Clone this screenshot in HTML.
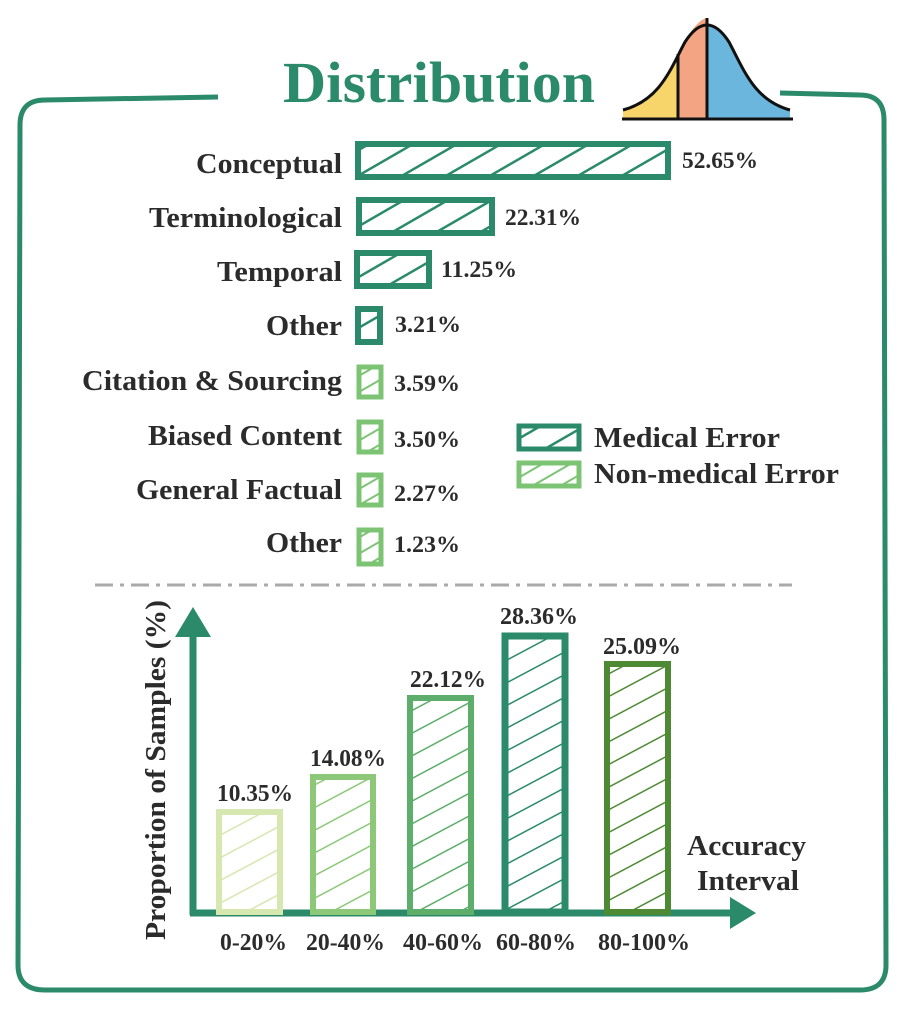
<!DOCTYPE html>
<html><head><style>
body{margin:0;background:#fff}
svg text{font-family:"Liberation Serif",serif;font-weight:bold}
</style></head><body>
<svg width="905" height="1004" viewBox="0 0 905 1004" xmlns="http://www.w3.org/2000/svg">
<defs>
<pattern id="hd" width="22" height="22" patternUnits="userSpaceOnUse" patternTransform="rotate(60)"><line x1="0" y1="0" x2="0" y2="22" stroke="#2a8a6a" stroke-width="5"/></pattern>
<pattern id="hl" width="14" height="14" patternUnits="userSpaceOnUse" patternTransform="rotate(60)"><line x1="0" y1="0" x2="0" y2="14" stroke="#7cc474" stroke-width="4"/></pattern>
<pattern id="b1" width="20" height="20" patternUnits="userSpaceOnUse" patternTransform="rotate(62)"><line x1="0" y1="0" x2="0" y2="20" stroke="#d6e7b0" stroke-width="3"/></pattern>
<pattern id="b2" width="20" height="20" patternUnits="userSpaceOnUse" patternTransform="rotate(62)"><line x1="0" y1="0" x2="0" y2="20" stroke="#8cc878" stroke-width="3"/></pattern>
<pattern id="b3" width="20" height="20" patternUnits="userSpaceOnUse" patternTransform="rotate(62)"><line x1="0" y1="0" x2="0" y2="20" stroke="#5cae6a" stroke-width="3"/></pattern>
<pattern id="b4" width="20" height="20" patternUnits="userSpaceOnUse" patternTransform="rotate(62)"><line x1="0" y1="0" x2="0" y2="20" stroke="#2a8a6a" stroke-width="3"/></pattern>
<pattern id="b5" width="20" height="20" patternUnits="userSpaceOnUse" patternTransform="rotate(62)"><line x1="0" y1="0" x2="0" y2="20" stroke="#4e8a34" stroke-width="3"/></pattern>
</defs>
<path d="M218,97 L45,100 Q20,100 20,125 L18,965 Q18,990 45,990 L860,990 Q886,990 886,965 L884,120 Q884,95 860,95 L780,93" fill="none" stroke="#2a8a6a" stroke-width="5"/>
<text x="283" y="102" font-size="58" fill="#2a8a6a" textLength="312" lengthAdjust="spacingAndGlyphs">Distribution</text>
<path d="M623,110 C660,100 670,70 685,42 Q707,8 729,42 C744,70 754,100 790,110 L790,118 L623,118Z" fill="#6bb6dd"/>
<path d="M623,110 C660,100 670,70 678,54 L678,118 L623,118Z" fill="#f7d56a"/>
<path d="M678,54 Q695,20 707,18 L707,118 L678,118Z" fill="#f3a583"/>
<path d="M623,110 C660,100 670,70 685,42 Q707,8 729,42 C744,70 754,100 790,110" fill="none" stroke="#111" stroke-width="3"/>
<line x1="678" y1="54" x2="678" y2="118" stroke="#111" stroke-width="3"/>
<line x1="707" y1="18" x2="707" y2="118" stroke="#111" stroke-width="3"/>
<line x1="622" y1="119" x2="793" y2="119" stroke="#111" stroke-width="3"/>
<g stroke-width="6">
<rect x="358" y="144" width="310" height="33" fill="url(#hd)" stroke="#2a8a6a"/>
<rect x="359" y="200" width="133" height="33" fill="url(#hd)" stroke="#2a8a6a"/>
<rect x="357" y="253" width="72" height="33" fill="url(#hd)" stroke="#2a8a6a"/>
<rect x="358" y="309" width="22" height="33" fill="url(#hd)" stroke="#2a8a6a"/>
<rect x="359" y="367" width="22" height="30" fill="url(#hl)" stroke="#7cc474" stroke-width="5"/>
<rect x="359" y="422" width="22" height="30" fill="url(#hl)" stroke="#7cc474" stroke-width="5"/>
<rect x="359" y="475" width="22" height="30" fill="url(#hl)" stroke="#7cc474" stroke-width="5"/>
<rect x="359" y="530" width="22" height="34" fill="url(#hl)" stroke="#7cc474" stroke-width="5"/>
<rect x="519" y="426" width="60" height="23" fill="url(#hd)" stroke="#2a8a6a" stroke-width="5"/>
<rect x="519" y="463" width="60" height="23" fill="url(#hl)" stroke="#7cc474" stroke-width="5"/>
</g>
<g font-size="29" fill="#2b2b2b" lengthAdjust="spacingAndGlyphs">
<text x="196" y="173" textLength="146" lengthAdjust="spacingAndGlyphs">Conceptual</text>
<text x="149" y="227" textLength="193" lengthAdjust="spacingAndGlyphs">Terminological</text>
<text x="217" y="281" textLength="125" lengthAdjust="spacingAndGlyphs">Temporal</text>
<text x="266" y="335" textLength="76" lengthAdjust="spacingAndGlyphs">Other</text>
<text x="82" y="390" textLength="260" lengthAdjust="spacingAndGlyphs">Citation &amp; Sourcing</text>
<text x="148" y="445" textLength="194" lengthAdjust="spacingAndGlyphs">Biased Content</text>
<text x="136" y="499" textLength="206" lengthAdjust="spacingAndGlyphs">General Factual</text>
<text x="266" y="552" textLength="76" lengthAdjust="spacingAndGlyphs">Other</text>
</g>
<g font-size="23" fill="#2b2b2b">
<text x="682" y="168" textLength="76" lengthAdjust="spacingAndGlyphs">52.65%</text>
<text x="505" y="225" textLength="76" lengthAdjust="spacingAndGlyphs">22.31%</text>
<text x="441" y="277" textLength="76" lengthAdjust="spacingAndGlyphs">11.25%</text>
<text x="395" y="332" textLength="66" lengthAdjust="spacingAndGlyphs">3.21%</text>
<text x="394" y="391" textLength="66" lengthAdjust="spacingAndGlyphs">3.59%</text>
<text x="394" y="447" textLength="66" lengthAdjust="spacingAndGlyphs">3.50%</text>
<text x="394" y="501" textLength="66" lengthAdjust="spacingAndGlyphs">2.27%</text>
<text x="394" y="552" textLength="66" lengthAdjust="spacingAndGlyphs">1.23%</text>
</g>
<g font-size="28" fill="#2b2b2b">
<text x="594" y="447" textLength="186" lengthAdjust="spacingAndGlyphs">Medical Error</text>
<text x="594" y="483" textLength="245" lengthAdjust="spacingAndGlyphs">Non-medical Error</text>
</g>
<line x1="95" y1="585" x2="792" y2="585" stroke="#aaa" stroke-width="3" stroke-dasharray="18,7,4,7"/>
<line x1="193" y1="915" x2="193" y2="630" stroke="#2a8a6a" stroke-width="7"/>
<path d="M175,637 L193,607 L211,637Z" fill="#2a8a6a"/>
<line x1="190" y1="913" x2="735" y2="913" stroke="#2a8a6a" stroke-width="7"/>
<path d="M730,897 L756,913 L730,929Z" fill="#2a8a6a"/>
<g stroke-width="6">
<rect x="219" y="812" width="61" height="100" fill="url(#b1)" stroke="#d6e7b0"/>
<rect x="313" y="777" width="60" height="135" fill="url(#b2)" stroke="#8cc878"/>
<rect x="410" y="698" width="61" height="214" fill="url(#b3)" stroke="#5cae6a"/>
<rect x="505" y="636" width="60" height="276" fill="url(#b4)" stroke="#2a8a6a" stroke-width="7"/>
<rect x="607" y="664" width="61" height="248" fill="url(#b5)" stroke="#4e8a34"/>
</g>
<g font-size="24" fill="#2b2b2b">
<text x="217" y="801" textLength="76" lengthAdjust="spacingAndGlyphs">10.35%</text>
<text x="310" y="766" textLength="76" lengthAdjust="spacingAndGlyphs">14.08%</text>
<text x="410" y="687" textLength="76" lengthAdjust="spacingAndGlyphs">22.12%</text>
<text x="500" y="624" textLength="78" lengthAdjust="spacingAndGlyphs">28.36%</text>
<text x="603" y="654" textLength="78" lengthAdjust="spacingAndGlyphs">25.09%</text>
<text x="220" y="950" textLength="67" lengthAdjust="spacingAndGlyphs">0-20%</text>
<text x="306" y="950" textLength="79" lengthAdjust="spacingAndGlyphs">20-40%</text>
<text x="403" y="950" textLength="80" lengthAdjust="spacingAndGlyphs">40-60%</text>
<text x="496" y="950" textLength="80" lengthAdjust="spacingAndGlyphs">60-80%</text>
<text x="598" y="950" textLength="92" lengthAdjust="spacingAndGlyphs">80-100%</text>
</g>
<g font-size="29" fill="#2b2b2b">
<text x="687" y="855" textLength="119" lengthAdjust="spacingAndGlyphs">Accuracy</text>
<text x="697" y="890" textLength="102" lengthAdjust="spacingAndGlyphs">Interval</text>
<text transform="translate(165,940) rotate(-90)" textLength="340" lengthAdjust="spacingAndGlyphs">Proportion of Samples (%)</text>
</g>
</svg>
</body></html>
